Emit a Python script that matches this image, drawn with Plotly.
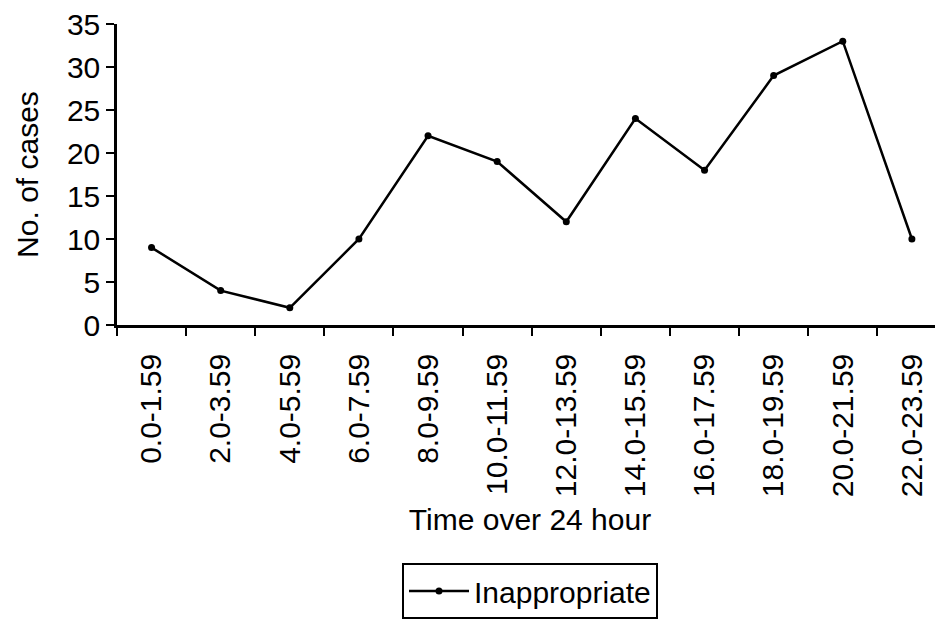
import plotly.graph_objects as go

categories = ["0.0-1.59", "2.0-3.59", "4.0-5.59", "6.0-7.59", "8.0-9.59", "10.0-11.59",
              "12.0-13.59", "14.0-15.59", "16.0-17.59", "18.0-19.59", "20.0-21.59", "22.0-23.59"]
inappropriate = [9, 4, 2, 10, 22, 19, 12, 24, 18, 29, 33, 10]
y_ticks = [0, 5, 10, 15, 20, 25, 30, 35]

FONT = "Liberation Sans, Arial, sans-serif"

fig = go.Figure()
fig.add_trace(go.Scatter(
    x=categories, y=inappropriate, mode="lines+markers", name="Inappropriate",
    line=dict(color="black", width=2.5),
    marker=dict(color="black", size=7, symbol="circle"),
))

fig.update_layout(
    width=935, height=611,
    margin=dict(l=109, r=0, t=16, b=291),
    paper_bgcolor="white", plot_bgcolor="white",
    font=dict(family=FONT, size=30, color="black"),
    showlegend=True,
    legend=dict(
        orientation="h", x=0.5, xanchor="center", y=-0.792, yanchor="top",
        bordercolor="black", borderwidth=2, font=dict(size=30),
        itemwidth=60,
    ),
    xaxis=dict(
        type="category", range=[-0.5, 11.45],
        showline=True, linecolor="black", linewidth=2.5,
        ticks="outside", tickson="boundaries", ticklen=8, tickwidth=2, tickcolor="black",
        tickangle=-90, showgrid=False, zeroline=False,
        ticklabelstandoff=14,
        title=dict(text="Time over 24 hour", standoff=13, font=dict(size=30)),
        automargin=False,
    ),
    yaxis=dict(
        range=[0, 35], tickvals=y_ticks,
        showline=True, linecolor="black", linewidth=2.5,
        ticks="outside", ticklen=8, tickwidth=2, tickcolor="black",
        ticklabeloverflow="allow",
        showgrid=False, zeroline=False,
        title=dict(text="No. of cases", standoff=20, font=dict(size=30)),
        automargin=False,
    ),
)

fig.write_html("out.html")
